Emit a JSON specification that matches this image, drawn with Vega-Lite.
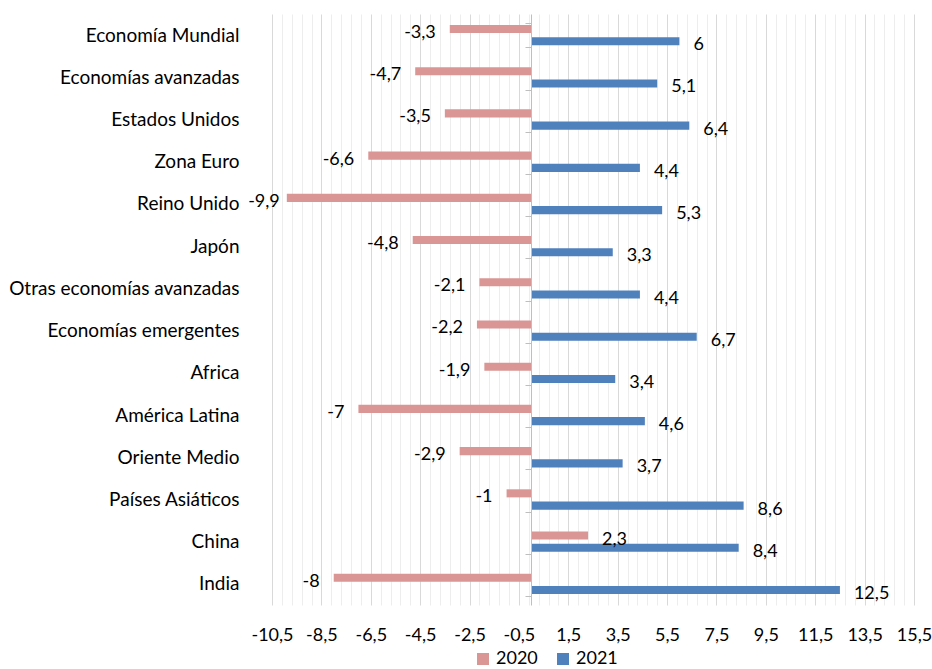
{
  "$schema": "https://vega.github.io/schema/vega-lite/v6.json",
  "width": 642,
  "height": 591,
  "autosize": {"type": "none"},
  "padding": {"left": 272, "top": 14, "right": 18, "bottom": 64},
  "config": {
    "locale": {"number": {"decimal": ",", "thousands": ".", "grouping": [3], "currency": ["", " €"], "minus": "-"}},
    "font": "Lato",
    "view": {"stroke": null}
  },
  "data": {
    "values": [
      {"region": "Economía Mundial", "year": "2020", "value": -3.3},
      {"region": "Economía Mundial", "year": "2021", "value": 6},
      {"region": "Economías avanzadas", "year": "2020", "value": -4.7},
      {"region": "Economías avanzadas", "year": "2021", "value": 5.1},
      {"region": "Estados Unidos", "year": "2020", "value": -3.5},
      {"region": "Estados Unidos", "year": "2021", "value": 6.4},
      {"region": "Zona Euro", "year": "2020", "value": -6.6},
      {"region": "Zona Euro", "year": "2021", "value": 4.4},
      {"region": "Reino Unido", "year": "2020", "value": -9.9},
      {"region": "Reino Unido", "year": "2021", "value": 5.3},
      {"region": "Japón", "year": "2020", "value": -4.8},
      {"region": "Japón", "year": "2021", "value": 3.3},
      {"region": "Otras economías avanzadas", "year": "2020", "value": -2.1},
      {"region": "Otras economías avanzadas", "year": "2021", "value": 4.4},
      {"region": "Economías emergentes", "year": "2020", "value": -2.2},
      {"region": "Economías emergentes", "year": "2021", "value": 6.7},
      {"region": "Africa", "year": "2020", "value": -1.9},
      {"region": "Africa", "year": "2021", "value": 3.4},
      {"region": "América Latina", "year": "2020", "value": -7},
      {"region": "América Latina", "year": "2021", "value": 4.6},
      {"region": "Oriente Medio", "year": "2020", "value": -2.9},
      {"region": "Oriente Medio", "year": "2021", "value": 3.7},
      {"region": "Países Asiáticos", "year": "2020", "value": -1},
      {"region": "Países Asiáticos", "year": "2021", "value": 8.6},
      {"region": "China", "year": "2020", "value": 2.3},
      {"region": "China", "year": "2021", "value": 8.4},
      {"region": "India", "year": "2020", "value": -8},
      {"region": "India", "year": "2021", "value": 12.5}
    ]
  },
  "encoding": {
    "y": {
      "field": "region",
      "type": "nominal",
      "sort": ["Economía Mundial", "Economías avanzadas", "Estados Unidos", "Zona Euro", "Reino Unido", "Japón", "Otras economías avanzadas", "Economías emergentes", "Africa", "América Latina", "Oriente Medio", "Países Asiáticos", "China", "India"],
      "scale": {"paddingInner": 0.42, "paddingOuter": 0.21},
      "axis": {
        "title": null,
        "offset": -259,
        "domain": true,
        "domainColor": "#BFBFBF",
        "ticks": true,
        "tickBand": "extent",
        "tickSize": 6,
        "tickColor": "#BFBFBF",
        "labelPadding": 286,
        "labelFontSize": 19,
        "labelColor": "#000000",
        "labelLimit": 400,
        "zindex": 1
      }
    },
    "yOffset": {
      "field": "year",
      "type": "nominal",
      "sort": ["2020", "2021"],
      "scale": {"paddingInner": 0.34, "paddingOuter": 0.17}
    }
  },
  "layer": [
    {
      "mark": {"type": "bar"},
      "encoding": {
        "x": {
          "field": "value",
          "type": "quantitative",
          "scale": {"domain": [-10.5, 15.5], "nice": false, "zero": false},
          "axis": {
            "title": null,
            "orient": "bottom",
            "values": [-10.5, -8.5, -6.5, -4.5, -2.5, -0.5, 1.5, 3.5, 5.5, 7.5, 9.5, 11.5, 13.5, 15.5],
            "format": ".1f",
            "grid": true,
            "gridColor": "#D9D9D9",
            "gridWidth": 1,
            "ticks": false,
            "domain": false,
            "labelFontSize": 18,
            "labelColor": "#000000",
            "labelPadding": 21,
            "labelFlush": false,
            "labelOverlap": false
          }
        },
        "color": {
          "field": "year",
          "type": "nominal",
          "scale": {"domain": ["2020", "2021"], "range": ["#D99694", "#4F81BD"]},
          "legend": {
            "title": null,
            "orient": "none",
            "legendX": 202,
            "legendY": 636,
            "direction": "horizontal",
            "padding": 0,
            "symbolType": "square",
            "symbolSize": 144,
            "symbolStrokeWidth": 0,
            "labelFontSize": 18,
            "labelColor": "#000000",
            "labelOffset": 4,
            "columnPadding": 16
          }
        }
      }
    },
    {
      "transform": [{"filter": "datum.value < 0 && datum.value >= -9"}],
      "mark": {"type": "text", "align": "right", "baseline": "middle", "dx": -14, "dy": 4, "fontSize": 18, "color": "#000000"},
      "encoding": {
        "x": {
          "field": "value",
          "type": "quantitative",
          "scale": {"domain": [-10.5, 15.5], "nice": false, "zero": false},
          "axis": {
            "title": null,
            "orient": "top",
            "values": [-10.1, -9.7, -9.3, -8.9, -8.1, -7.7, -7.3, -6.9, -6.1, -5.7, -5.3, -4.9, -4.1, -3.7, -3.3, -2.9, -2.1, -1.7, -1.3, -0.9, -0.1, 0.3, 0.7, 1.1, 1.9, 2.3, 2.7, 3.1, 3.9, 4.3, 4.7, 5.1, 5.9, 6.3, 6.7, 7.1, 7.9, 8.3, 8.7, 9.1, 9.9, 10.3, 10.7, 11.1, 11.9, 12.3, 12.7, 13.1, 13.9, 14.3, 14.7, 15.1],
            "grid": true,
            "gridColor": "#EDEDED",
            "gridWidth": 1,
            "ticks": false,
            "domain": false,
            "labels": false
          }
        },
        "text": {"field": "value", "type": "quantitative", "format": "~g"}
      }
    },
    {
      "transform": [{"filter": "datum.value < -9"}],
      "mark": {"type": "text", "align": "right", "baseline": "middle", "dx": -7, "dy": 4, "fontSize": 18, "color": "#000000"},
      "encoding": {
        "x": {
          "field": "value",
          "type": "quantitative",
          "scale": {"domain": [-10.5, 15.5], "nice": false, "zero": false},
          "axis": null
        },
        "text": {"field": "value", "type": "quantitative", "format": "~g"}
      }
    },
    {
      "transform": [{"filter": "datum.value >= 0"}],
      "mark": {"type": "text", "align": "left", "baseline": "middle", "dx": 14, "dy": 4, "fontSize": 18, "color": "#000000"},
      "encoding": {
        "x": {
          "field": "value",
          "type": "quantitative",
          "scale": {"domain": [-10.5, 15.5], "nice": false, "zero": false},
          "axis": null
        },
        "text": {"field": "value", "type": "quantitative", "format": "~g"}
      }
    }
  ],
  "resolve": {"axis": {"x": "independent"}}
}
